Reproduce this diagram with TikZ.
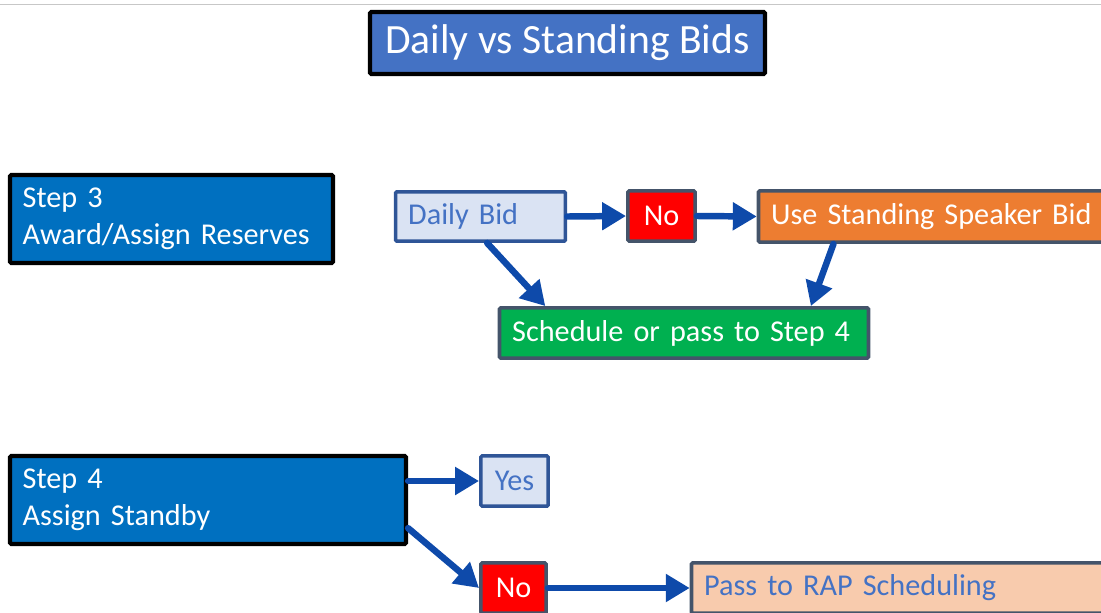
\documentclass[tikz,border=0pt]{standalone}
\usepackage{fontspec}
\setmainfont{Carlito}
\usetikzlibrary{arrows.meta,positioning}
\definecolor{titleblue}{HTML}{4472C4}
\definecolor{stepblue}{HTML}{0070C0}
\definecolor{lightfill}{HTML}{DAE3F3}
\definecolor{lightline}{HTML}{2F5597}
\definecolor{slate}{HTML}{44546A}
\definecolor{orangefill}{HTML}{ED7D31}
\definecolor{greenfill}{HTML}{00B050}
\definecolor{peachfill}{HTML}{F8CBAD}
\definecolor{arrowblue}{HTML}{0E4AAA}
\begin{document}
\begin{tikzpicture}[x=0.025cm,y=-0.025cm,
	box/.style={rectangle,rounded corners=1pt,line width=2.5pt,draw=slate,inner xsep=9pt,inner ysep=0pt,font=\fontsize{21.5}{26}\selectfont},
	stepbox/.style={box,draw=black,line width=3pt,fill=stepblue,text=white,align=left,minimum height=2.2cm},
	lightbox/.style={box,draw=lightline,fill=lightfill,text=titleblue},
	flow/.style={line width=4.6pt,draw=arrowblue,line cap=round,-{Triangle[length=17pt,width=19pt]}}]
	\useasboundingbox (0,0) rectangle (1101,613);
	\clip (0,0) rectangle (1101,613);
	\draw[black!22] (0,4) -- (1101,4);

	\node[box,draw=black,line width=3pt,fill=titleblue,text=white,font=\fontsize{29.6}{34}\selectfont,minimum width=9.875cm,minimum height=1.55cm] (title) at (567.5,43) {Daily vs Standing Bids};

	% step 3
	\node[stepbox,text width=7.44cm] (step3) at (171.5,219) {Step 3\\Award/Assign Reserves};
	\node[lightbox,text width=3.615cm,align=left,minimum height=1.235cm] (daily) at (480.5,216.5) {Daily Bid};
	\node[box,fill=red,text=white,minimum width=1.685cm,minimum height=1.26cm] (no1) at (661.5,216) {No};
	\node[box,fill=orangefill,text=white,text width=8.24cm,align=left,minimum height=1.285cm] (standing) at (936,216.5) {Use Standing Speaker Bid};
	\node[box,fill=greenfill,text=white,text width=8.59cm,align=left,minimum height=1.26cm] (sched) at (684,333) {Schedule or pass to Step 4};

	% step 4
	\node[stepbox,text width=9.265cm] (step4) at (208,500) {Step 4\\Assign Standby};
	\node[lightbox,minimum width=1.685cm,minimum height=1.26cm] (yes) at (514.5,481) {Yes};
	\node[box,fill=red,text=white,minimum width=1.635cm,minimum height=1.26cm] (no2) at (513.5,588) {No};
	\node[box,fill=peachfill,text=titleblue,text width=10.04cm,align=left,minimum height=1.26cm] (pass) at (905,588) {Pass to RAP Scheduling};

	\draw[flow] (daily.east) -- (no1.west);
	\draw[flow] (no1.east) -- (standing.west);
	\draw[flow] (daily.-76) -- (sched.169);
	\draw[flow] (standing.195) -- (sched.12);
	\draw[flow] (step4.east |- yes) -- (yes.west);
	\draw[flow] (step4.-8) -- (no2.west);
	\draw[flow] (no2.east) -- (pass.west);
\end{tikzpicture}
\end{document}
